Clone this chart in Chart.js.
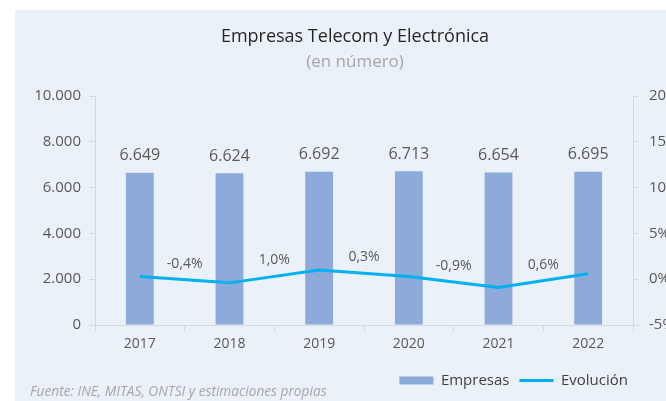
<!DOCTYPE html>
<html>
<head>
<meta charset="utf-8">
<script src="https://cdn.jsdelivr.net/npm/chart.js@4.4.0/dist/chart.umd.min.js"></script>
<style>
  body { margin: 0; background: #fff; }
  #wrap { position: absolute; left: 15px; top: 10px; width: 651px; height: 391px; background: #eaf1f9; }
</style>
</head>
<body>
<div id="wrap"><canvas id="chart" width="651" height="391"></canvas></div>
<script>
// datos
const years = ['2017', '2018', '2019', '2020', '2021', '2022'];
const empresas = [6649, 6624, 6692, 6713, 6654, 6695];
const evolucion = [0.3, -0.4, 1.0, 0.3, -0.9, 0.6];
const leftAxis = { min: 0, max: 10000, step: 2000 };
const rightAxis = { min: -5, max: 20, step: 5 };

const grey = '#595959';
const axisLine = '#d6dbe0';

function miles(v) {
    return String(v).replace(/\B(?=(\d{3})+(?!\d))/g, '.');
}
function pct(v) {
    return v.toFixed(1).replace('.', ',') + '%';
}

// titles, source and data labels
const extras = {
    id: 'extras',
    afterLayout(chart) {
        // legend sits left of the right axis labels
        chart.legend.right -= 28;
    },
    afterDraw(chart) {
        const ctx = chart.ctx;
        ctx.save();
        ctx.textAlign = 'center';
        ctx.textBaseline = 'middle';
        ctx.fillStyle = '#262626';
        ctx.font = '18px "Open Sans"';
        ctx.fillText('Empresas Telecom y Electrónica', 340, 27);
        ctx.fillStyle = '#a6a6a6';
        ctx.font = '17px "Open Sans"';
        ctx.fillText('(en número)', 340, 52);

        // bar values
        ctx.fillStyle = grey;
        ctx.font = '16px "Open Sans"';
        chart.getDatasetMeta(0).data.forEach((bar, i) => {
            ctx.fillText(miles(empresas[i]), bar.x, bar.y - 17);
        });

        // evolution values, on the middle of each segment
        ctx.font = '14px "Open Sans"';
        const pts = chart.getDatasetMeta(1).data;
        for (let i = 1; i < pts.length; i++) {
            const x = (pts[i - 1].x + pts[i].x) / 2;
            const y = (pts[i - 1].y + pts[i].y) / 2;
            ctx.fillText(pct(evolucion[i]), x, y - 16);
        }

        ctx.textAlign = 'left';
        ctx.fillStyle = '#a6a6a6';
        ctx.font = 'italic 13.7px "Open Sans"';
        ctx.fillText('Fuente: INE, MITAS, ONTSI y estimaciones propias', 15, 382);
        ctx.restore();
    }
};

new Chart(document.getElementById('chart'), {
    data: {
        labels: years,
        datasets: [
            {
                type: 'bar',
                label: 'Empresas',
                data: empresas,
                backgroundColor: '#8eaadb',
                yAxisID: 'y',
                barPercentage: 0.31,
                categoryPercentage: 1,
                pointStyle: 'rect',
                order: 2
            },
            {
                type: 'line',
                label: 'Evolución',
                data: evolucion,
                borderColor: '#00b0f0',
                backgroundColor: '#00b0f0',
                borderWidth: 3,
                pointRadius: 0,
                pointStyle: 'line',
                yAxisID: 'y1',
                order: 1
            }
        ]
    },
    options: {
        responsive: false,
        animation: false,
        layout: { padding: { top: 86, right: 0, bottom: 3, left: 0 } },
        plugins: {
            title: { display: false },
            tooltip: { enabled: false },
            legend: {
                position: 'bottom',
                align: 'end',
                labels: {
                    usePointStyle: true,
                    pointStyleWidth: 34,
                    boxHeight: 8,
                    padding: 10,
                    color: '#404040',
                    font: { family: 'Open Sans', size: 15 },
                    sort: (a, b) => a.datasetIndex - b.datasetIndex
                }
            }
        },
        scales: {
            x: {
                grid: { drawOnChartArea: false, tickLength: 7, color: axisLine },
                border: { color: axisLine },
                ticks: { color: grey, font: { family: 'Open Sans', size: 14 }, padding: 4 },
                afterFit(s) { s.height = 38; }
            },
            y: {
                position: 'left',
                min: leftAxis.min,
                max: leftAxis.max,
                grid: { drawOnChartArea: false, tickLength: 6, color: axisLine },
                border: { color: axisLine },
                ticks: {
                    stepSize: leftAxis.step,
                    color: grey,
                    padding: 8,
                    font: { family: 'Open Sans', size: 15 },
                    callback: v => miles(v)
                },
                afterFit(s) { s.width = 80; }
            },
            y1: {
                position: 'right',
                min: rightAxis.min,
                max: rightAxis.max,
                grid: { drawOnChartArea: false, tickLength: 6, color: axisLine },
                border: { color: axisLine },
                ticks: {
                    stepSize: rightAxis.step,
                    color: grey,
                    padding: 10,
                    font: { family: 'Open Sans', size: 15 },
                    callback: v => v + '%'
                },
                afterFit(s) { s.width = 33; }
            }
        }
    },
    plugins: [extras]
});
</script>
</body>
</html>
